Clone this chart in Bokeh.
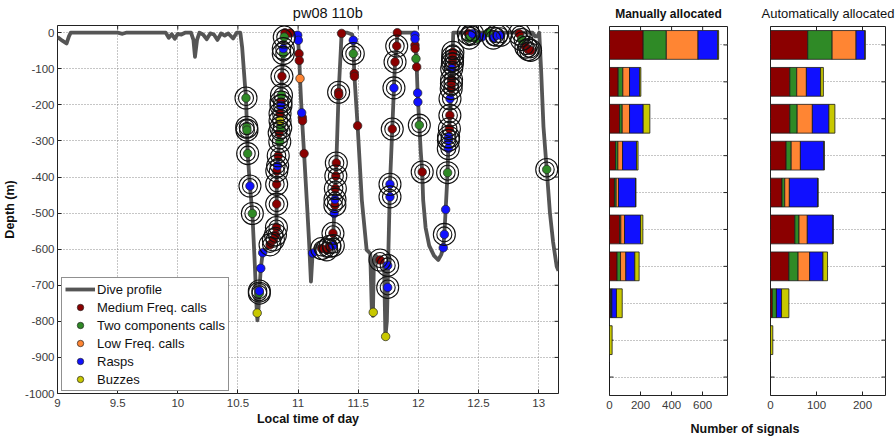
import math
from bokeh.plotting import figure
from bokeh.models import (Range1d, FixedTicker, Legend, LegendItem, Label,
                          CustomJSTickFormatter, ColumnDataSource)
from bokeh.layouts import row, column
from bokeh.embed import file_html
from bokeh.resources import INLINE

FONT = "Liberation Sans"

# ---------------- data: dive profile ----------------
profile_time = [9.00, 9.04, 9.075, 9.095, 9.11, 9.50, 9.54, 9.57, 9.90, 9.925, 9.95, 9.975, 10.0, 10.03,
                10.06, 10.11, 10.13, 10.143, 10.16, 10.18, 10.21, 10.24, 10.27, 10.30, 10.33, 10.36,
                10.39, 10.42, 10.46, 10.49, 10.52,
                10.535, 10.555, 10.567, 10.575, 10.581, 10.60, 10.62, 10.64, 10.655, 10.662, 10.672,
                10.678, 10.69, 10.706, 10.74, 10.767, 10.795, 10.812, 10.82, 10.822, 10.823, 10.835,
                10.85, 10.866, 10.877, 10.882, 10.935, 10.99, 10.997, 11.01, 11.016, 11.03, 11.05,
                11.075, 11.09, 11.107, 11.121, 11.15, 11.196, 11.238, 11.265, 11.29, 11.293, 11.30,
                11.31, 11.318, 11.337, 11.355, 11.362, 11.41, 11.45, 11.459, 11.467, 11.495, 11.53,
                11.57, 11.60, 11.613, 11.622, 11.63, 11.645, 11.681, 11.715, 11.726, 11.738, 11.745,
                11.748, 11.764, 11.783, 11.797, 11.806, 11.82, 11.825, 11.965, 11.972, 11.986, 11.994,
                12.008, 12.02, 12.032, 12.04, 12.06, 12.09, 12.13, 12.165, 12.19, 12.207, 12.216,
                12.227, 12.243, 12.25, 12.262, 12.275, 12.285, 12.29, 12.95, 12.97, 12.99, 13.005,
                13.02, 13.04, 13.067, 13.094, 13.12, 13.15, 13.165]
profile_depth = [-12, -22, -30, -10, 0, 0, -3, 0, 0, -14, -4, -17, -3, -5,
                 0, 0, -20, -67, -20, 0, -5, -18, -2, -5, -20, -2,
                 -8, -2, -16, 0, 0,
                 -40, -130, -181, -266, -335, -425, -501, -640, -760, -797, -760,
                 -716, -653, -610, -598, -590, -575, -560, -540, -475, -383, -341,
                 -244, -121, -44, 0, 0, -2, -7, -70, -127, -222, -335,
                 -480, -570, -690, -611, -590, -598, -604, -594, -585, -556, -501,
                 -432, -361, -167, -50, 0, 0, -5, -21, -113, -258, -464,
                 -602, -612, -770, -785, -640, -618, -630, -640, -842, -800, -706,
                 -645, -420, -267, -153, -81, -37, 0, 0, -7, -95, -167,
                 -256, -330, -386, -464, -540, -590, -618, -630, -615, -596, -559,
                 -490, -388, -300, -229, -141, -60, 0, 0, -10, -10, 0,
                 -100, -260, -379, -500, -580, -648, -660]

# ---------------- data: detected signals (time, depth, ringed) ----------------
mf_time = [10.767, 10.795, 10.812, 10.820, 10.822, 10.822, 10.823, 10.835, 10.843, 10.850, 10.858, 10.866,
           10.891, 10.935, 11.008, 11.010, 11.035, 11.037, 11.050, 11.196, 11.238, 11.265, 11.290,
           11.306, 11.310, 11.314, 11.318, 11.337, 11.338, 11.362, 11.467, 11.468, 11.495, 11.681,
           11.783, 11.806, 11.820, 11.825, 11.972, 11.973, 11.986, 12.032, 12.287, 12.285, 12.284,
           12.283, 12.276, 12.275, 12.273, 12.262, 12.258, 12.415, 12.839, 12.894, 12.913, 12.933]
mf_depth = [-588, -574, -560, -540, -475, -420, -383, -341, -278, -224, -192, -121,
            0, -1, -58, -77, -235, -244, -335, -598, -602, -592, -556,
            -478, -432, -397, -361, -165, -172, -2, -113, -121, -258, -630,
            -267, -81, -37, 0, -35, -44, -95, -386, -54, -67, -77,
            -86, -130, -141, -155, -229, -266, -2, -3, -40, -47, -49]
mf_ring = [1, 1, 1, 1, 1, 1, 1, 1, 1, 1, 1, 1,
           0, 0, 0, 0, 0, 0, 0, 1, 1, 1, 1,
           1, 1, 1, 1, 1, 0, 0, 0, 0, 0, 1,
           1, 1, 1, 0, 0, 0, 0, 1, 1, 1, 1,
           1, 1, 1, 1, 1, 1, 1, 1, 1, 1, 1]

tc_time = [10.567, 10.573, 10.575, 10.581, 10.620, 10.678, 10.848, 10.856, 10.862, 10.877, 10.885,
           11.459, 11.980, 12.008, 12.243, 12.423, 12.479, 12.581, 12.858, 13.067]
tc_depth = [-181, -262, -270, -335, -501, -722, -302, -263, -173, -58, -12,
            -58, -72, -256, -388, -15, -17, 0, -19, -379]
tc_ring = [1, 1, 1, 1, 1, 1, 1, 1, 1, 1, 1,
           1, 0, 1, 1, 1, 0, 0, 1, 1]

lf_time = [11.016]
lf_depth = [-127]
lf_ring = [0]

ra_time = [10.600, 10.678, 10.690, 10.706, 10.830, 10.858, 10.877, 10.997, 11.002, 11.030,
           11.121, 11.293, 11.300, 11.307, 11.459, 11.745, 11.745, 11.764, 11.764, 11.797,
           11.972, 11.972, 11.994, 11.996, 12.207, 12.216, 12.227, 12.249, 12.250, 12.251,
           12.263, 12.277, 12.451, 12.527, 12.623, 12.650, 12.684]
ra_depth = [-425, -716, -653, -610, -369, -202, -44, -7, -21, -222,
            -611, -590, -501, -462, -21, -645, -706, -420, -455, -153,
            -7, -17, -167, -192, -596, -559, -490, -321, -298, -289,
            -183, -100, -3, -12, -15, -7, -7]
ra_ring = [1, 1, 0, 0, 1, 1, 1, 0, 0, 0,
           0, 1, 0, 1, 0, 1, 1, 1, 1, 1,
           0, 0, 0, 0, 0, 1, 0, 1, 1, 1,
           1, 1, 1, 0, 1, 1, 1]

bz_time = [10.660, 10.850, 11.625, 11.728]
bz_depth = [-777, -244, -775, -842]
bz_ring = [0, 1, 0, 0]

# ---------------- data: signals per 100 m depth bin ----------------
bin_center = [-50, -150, -250, -350, -450, -550, -650, -750, -850, -950]
man_mf = [217, 56, 65, 39, 32, 65, 49, 6, 0, 0]
man_tc = [149, 30, 17, 15, 11, 8, 22, 9, 0, 0]
man_lf = [204, 43, 47, 30, 15, 24, 34, 0, 0, 0]
man_ra = [127, 65, 88, 90, 110, 103, 58, 30, 0, 0]
man_bz = [6, 8, 43, 10, 2, 15, 28, 37, 17, 0]
auto_mf = [81, 42, 42, 34, 25, 53, 40, 4, 0, 0]
auto_tc = [53, 15, 16, 11, 6, 9, 20, 9, 0, 0]
auto_lf = [52, 21, 33, 20, 10, 18, 25, 0, 0, 0]
auto_ra = [19, 31, 36, 51, 62, 56, 29, 11, 0, 0]
auto_bz = [1, 6, 13, 1, 0, 0, 10, 16, 5, 0]

labels = ["Medium Freq. calls", "Two components calls", "Low Freq. calls", "Rasps", "Buzzes"]
colors = ["#8b0000", "#2f8a26", "#ff8533", "#1010ff", "#c8c800"]

x_ticks = [9, 9.5, 10, 10.5, 11, 11.5, 12, 12.5, 13]
y_ticks = [0, -100, -200, -300, -400, -500, -600, -700, -800, -900, -1000]

TICK = "#222222"


def style_axis(ax, ticks):
    ax.ticker = FixedTicker(ticks=ticks)
    ax.major_tick_in = 4
    ax.major_tick_out = 0
    ax.minor_tick_line_color = None
    ax.axis_line_color = None
    ax.major_tick_line_color = TICK
    ax.major_label_text_font = FONT
    ax.major_label_text_color = "#3a3a3a"
    ax.major_label_text_font_size = "11.5px"
    ax.formatter = CustomJSTickFormatter(code="return String(tick)")


def mirror_ticks(f, xt, ytop, yt, xright):
    # inward tick marks on the top and right frame edges (half of each dash is clipped by the frame)
    f.scatter(xt, [ytop] * len(xt), marker="dash", angle=math.pi / 2, size=8,
              line_color=TICK, line_width=1)
    f.scatter([xright] * len(yt), yt, marker="dash", size=8, line_color=TICK, line_width=1)


def text_strip(width, height, text, x, y, size, style, align="center"):
    # a thin figure that only carries one text (used for titles / shared axis label)
    s = figure(width=width, height=height, x_range=Range1d(0, width), y_range=Range1d(0, height),
               x_axis_type=None, y_axis_type=None, output_backend="svg", toolbar_location=None,
               min_border=0, outline_line_color=None)
    s.xgrid.visible = False
    s.ygrid.visible = False
    s.add_layout(Label(x=x, y=y, text=text, text_font=FONT, text_font_size=size,
                       text_font_style=style, text_baseline="middle", text_align=align,
                       text_color="#111111"))
    return s


# ---------------- main dive plot ----------------
X_END = 13.165
Y_TOP = 20
p = figure(width=570, height=415, x_range=Range1d(9, X_END), y_range=Range1d(-1000, Y_TOP),
           output_backend="svg", toolbar_location=None,
           min_border_left=57, min_border_right=12, min_border_top=1, min_border_bottom=46)
p.outline_line_color = "#222222"

style_axis(p.xaxis[0], x_ticks)
style_axis(p.yaxis[0], y_ticks)
p.xaxis.major_label_standoff = 5
p.yaxis.major_label_standoff = 3
p.xaxis.axis_label = "Local time of day"
p.yaxis.axis_label = "Depth (m)"
for ax in (p.xaxis[0], p.yaxis[0]):
    ax.axis_label_text_font = FONT
    ax.axis_label_text_font_size = "12.5px"
    ax.axis_label_text_font_style = "bold"
    ax.axis_label_text_color = "#111111"
p.xaxis.axis_label_standoff = 2
p.yaxis.axis_label_standoff = 5

p.xgrid.ticker = FixedTicker(ticks=x_ticks)
p.ygrid.ticker = FixedTicker(ticks=y_ticks)
for g in (p.xgrid[0], p.ygrid[0]):
    g.grid_line_color = "#8c8c8c"
    g.grid_line_dash = "1 2"
    g.grid_line_width = 1

mirror_ticks(p, x_ticks, Y_TOP, y_ticks, X_END)

line_r = p.line(profile_time, profile_depth, line_color="#555555", line_width=3.8, line_join="round")

cats = [(mf_time, mf_depth, mf_ring), (tc_time, tc_depth, tc_ring), (lf_time, lf_depth, lf_ring),
        (ra_time, ra_depth, ra_ring), (bz_time, bz_depth, bz_ring)]
dot_renderers = []
ring_t, ring_d = [], []
for (tt, dd, rr), col in zip(cats, colors):
    r = p.scatter(tt, dd, marker="circle", size=8.5, fill_color=col, line_color="#222222", line_width=0.7)
    dot_renderers.append(r)
    ring_t += [t for t, f in zip(tt, rr) if f]
    ring_d += [d for d, f in zip(dd, rr) if f]

for s in (15, 22):
    p.scatter(ring_t, ring_d, marker="circle", size=s, fill_color=None, line_color="#111111",
              line_width=1.1)

items = [LegendItem(label="Dive profile", renderers=[line_r])]
items += [LegendItem(label=lab, renderers=[r]) for lab, r in zip(labels, dot_renderers)]
legend = Legend(items=items, location=(4, 2), label_text_font=FONT, label_text_font_size="13px",
                label_text_color="#111111", glyph_width=30, glyph_height=16, label_height=16,
                label_standoff=2, spacing=2, padding=3, margin=0,
                border_line_color="#222222", border_line_width=1, background_fill_alpha=1)
p.add_layout(legend)

t_main = text_strip(570, 24, "pw08 110b", 57 + 501 / 2, 12, "14.5px", "normal")


# ---------------- bar charts ----------------
def bar_fig(vals, xmax, xticks, left, right, width):
    f = figure(width=width, height=395, x_range=Range1d(0, xmax), y_range=Range1d(-1000, 0),
               output_backend="svg", toolbar_location=None,
               min_border_left=left, min_border_right=right, min_border_top=1, min_border_bottom=25)
    f.outline_line_color = "#222222"
    style_axis(f.xaxis[0], xticks)
    f.xaxis.major_label_standoff = 5
    f.yaxis.visible = False
    f.xgrid.grid_line_color = None
    f.ygrid.ticker = FixedTicker(ticks=bin_center)
    f.ygrid.grid_line_color = "#8c8c8c"
    f.ygrid.grid_line_dash = "1 2"
    mirror_ticks(f, xticks, 0, bin_center, xmax)
    f.scatter([0] * len(bin_center), bin_center, marker="dash", size=8, line_color=TICK, line_width=1)
    src = ColumnDataSource(dict(depth=bin_center, mf=vals[0], tc=vals[1], lf=vals[2], ra=vals[3], bz=vals[4]))
    f.hbar_stack(["mf", "tc", "lf", "ra", "bz"], y="depth", height=78, color=colors,
                 line_color="#1a1a1a", line_width=0.8, source=src)
    return f


p_man = bar_fig([man_mf, man_tc, man_lf, man_ra, man_bz], 760, [0, 200, 400, 600], 39, 6, 163)
p_auto = bar_fig([auto_mf, auto_tc, auto_lf, auto_ra, auto_bz], 250, [0, 100, 200], 37, 11, 163)

t_man = text_strip(163, 25, "Manually allocated", 39 + 118 / 2, 12, "12px", "bold")
t_auto = text_strip(163, 25, "Automatically allocated", 37 + 115 / 2, 12, "13px", "normal")

p_lbl = text_strip(326, 19, "Number of signals", 120, 11, "12.5px", "bold", align="left")

layout = row(column(t_main, p),
             column(row(t_man, t_auto), row(p_man, p_auto), p_lbl))

open("out.html", "w").write(file_html(layout, INLINE))
